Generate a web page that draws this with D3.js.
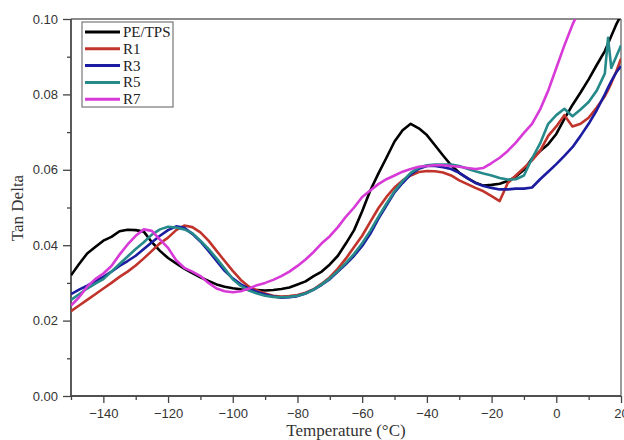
<!DOCTYPE html>
<html>
<head>
<meta charset="utf-8">
<script src="https://cdn.jsdelivr.net/npm/d3@7"></script>
<style>
  body { margin: 0; background: #fff; }
  svg { display: block; }
</style>
</head>
<body>
<div id="chart"></div>
<script>
// temperature grid (°C), shared by all series
const temps = [
  -150, -147.5, -145, -142.5, -140, -137.5, -135, -132.5, -130, -127.5,
  -125, -122.5, -120, -117.5, -115, -112.5, -110, -107.5, -105, -102.5,
  -100, -97.5, -95, -92.5, -90, -87.5, -85, -82.5, -80, -77.5,
  -75, -72.5, -70, -67.5, -65, -62.5, -60, -57.5, -55, -52.5,
  -50, -47.5, -45, -42.5, -40, -37.5, -35, -32.5, -30, -27.5,
  -25, -22.5, -20, -17.5, -15, -12.5, -10, -7.5, -5, -2.5,
  0, 2.5, 5, 7.5, 10, 12.5, 15, 16, 17, 18.5, 20
];

const pePts = [
  0.0320, 0.0350, 0.0378, 0.0395, 0.0412, 0.0422, 0.0437, 0.0441, 0.0440, 0.0436,
  0.0408, 0.0385, 0.0366, 0.0352, 0.0338, 0.0326, 0.0315, 0.0305, 0.0296, 0.0290,
  0.0286, 0.0283, 0.0281, 0.0281, 0.0280, 0.0281, 0.0284, 0.0288, 0.0296, 0.0304,
  0.0318, 0.0330, 0.0349, 0.0372, 0.0405, 0.0440, 0.0490, 0.0545, 0.0590, 0.0632,
  0.0675, 0.0705, 0.0722, 0.0710, 0.0692, 0.0665, 0.0638, 0.0612, 0.0592, 0.0578,
  0.0566, 0.0558, 0.0560, 0.0563, 0.0570, 0.0582, 0.0600, 0.0630, 0.0650, 0.0668,
  0.0695, 0.0735, 0.0772, 0.0805, 0.0840, 0.0878, 0.0915, 0.0935, 0.0955, 0.0985, 0.1010
];

const r1Pts = [
  0.0225, 0.0240, 0.0255, 0.0270, 0.0285, 0.0300, 0.0316, 0.0330, 0.0346, 0.0365,
  0.0385, 0.0405, 0.0420, 0.0440, 0.0452, 0.0448, 0.0434, 0.0412, 0.0385, 0.0358,
  0.0332, 0.0308, 0.0290, 0.0280, 0.0272, 0.0266, 0.0264, 0.0265, 0.0268, 0.0274,
  0.0283, 0.0298, 0.0315, 0.0338, 0.0365, 0.0395, 0.0425, 0.0462, 0.0498, 0.0528,
  0.0553, 0.0572, 0.0585, 0.0594, 0.0597, 0.0596, 0.0593, 0.0585, 0.0572, 0.0562,
  0.0552, 0.0543, 0.0530, 0.0517, 0.0565, 0.0585, 0.0605, 0.0625, 0.0650, 0.0690,
  0.0715, 0.0745, 0.0715, 0.0722, 0.0738, 0.0765, 0.0795, 0.0812, 0.0830, 0.0860, 0.0895
];

const r3Pts = [
  0.0270, 0.0282, 0.0293, 0.0305, 0.0316, 0.0330, 0.0345, 0.0358, 0.0372, 0.0390,
  0.0408, 0.0425, 0.0440, 0.0450, 0.0446, 0.0430, 0.0410, 0.0385, 0.0358, 0.0332,
  0.0312, 0.0296, 0.0285, 0.0276, 0.0269, 0.0264, 0.0261, 0.0262, 0.0265, 0.0272,
  0.0282, 0.0295, 0.0310, 0.0330, 0.0350, 0.0372, 0.0398, 0.0430, 0.0470, 0.0505,
  0.0540, 0.0565, 0.0588, 0.0603, 0.0610, 0.0610, 0.0607, 0.0602, 0.0592, 0.0578,
  0.0565, 0.0557, 0.0552, 0.0548, 0.0548, 0.0550, 0.0550, 0.0553, 0.0575, 0.0595,
  0.0615, 0.0637, 0.0660, 0.0690, 0.0722, 0.0758, 0.0800, 0.0818, 0.0835, 0.0858, 0.0875
];

const r5Pts = [
  0.0255, 0.0270, 0.0285, 0.0298, 0.0310, 0.0330, 0.0350, 0.0370, 0.0390, 0.0408,
  0.0428, 0.0442, 0.0449, 0.0447, 0.0442, 0.0432, 0.0412, 0.0390, 0.0365, 0.0338,
  0.0310, 0.0292, 0.0280, 0.0272, 0.0266, 0.0263, 0.0262, 0.0263, 0.0266, 0.0272,
  0.0282, 0.0296, 0.0312, 0.0332, 0.0353, 0.0377, 0.0405, 0.0438, 0.0475, 0.0510,
  0.0543, 0.0570, 0.0592, 0.0606, 0.0612, 0.0614, 0.0614, 0.0614, 0.0610, 0.0603,
  0.0596, 0.0590, 0.0585, 0.0578, 0.0574, 0.0575, 0.0585, 0.0630, 0.0670, 0.0722,
  0.0745, 0.0762, 0.0742, 0.0760, 0.0780, 0.0810, 0.0855, 0.0950, 0.0870, 0.0900, 0.0930
];

const r7Pts = [
  0.0240, 0.0262, 0.0290, 0.0310, 0.0325, 0.0345, 0.0375, 0.0402, 0.0425, 0.0442,
  0.0438, 0.0415, 0.0393, 0.0360, 0.0340, 0.0330, 0.0318, 0.0300, 0.0285, 0.0278,
  0.0275, 0.0278, 0.0285, 0.0294, 0.0300, 0.0308, 0.0318, 0.0330, 0.0345, 0.0362,
  0.0382, 0.0405, 0.0424, 0.0448, 0.0476, 0.0500, 0.0528, 0.0545, 0.0562, 0.0575,
  0.0585, 0.0595, 0.0602, 0.0608, 0.0610, 0.0612, 0.0612, 0.0610, 0.0608, 0.0605,
  0.0602, 0.0605, 0.0618, 0.0632, 0.0650, 0.0672, 0.0698, 0.0722, 0.0760, 0.0810,
  0.0870, 0.0930, 0.0985, 0.1030, 0.1060, 0.1090, 0.1120, 0.1130, 0.1140, 0.1150, 0.1160
];

const seriesNames = ["PE/TPS", "R1", "R3", "R5", "R7"];
const seriesValues = [pePts, r1Pts, r3Pts, r5Pts, r7Pts];
const seriesColors = ["#000000", "#c0342c", "#1c1ca0", "#268a8a", "#d83ad8"];

const xMajor = [-140, -120, -100, -80, -60, -40, -20, 0, 20];
const xMinor = [-150, -130, -110, -90, -70, -50, -30, -10, 10];
const yMajor = [0, 0.02, 0.04, 0.06, 0.08, 0.10];
const yMinor = [0.01, 0.03, 0.05, 0.07, 0.09];

const width = 624;
const height = 440;
const margin = { top: 19, right: 3, bottom: 44, left: 71 };
const plotW = width - margin.left - margin.right;
const plotH = height - margin.top - margin.bottom;

const svg = d3
  .select("#chart")
  .append("svg")
  .attr("width", width)
  .attr("height", height);

const xScale = d3.scaleLinear().domain([-150, 20]).range([0, plotW]);
const yScale = d3.scaleLinear().domain([0, 0.1]).range([plotH, 0]);

const g = svg
  .append("g")
  .attr("transform", "translate(" + margin.left + "," + margin.top + ")");

svg
  .append("defs")
  .append("clipPath")
  .attr("id", "plotClip")
  .append("rect")
  .attr("x", 0)
  .attr("y", 0)
  .attr("width", plotW)
  .attr("height", plotH);

// frame (top + right)
g.append("line")
  .attr("x1", 0).attr("x2", plotW)
  .attr("y1", 0).attr("y2", 0)
  .attr("stroke", "#666").attr("stroke-width", 1.3);
g.append("line")
  .attr("x1", plotW).attr("x2", plotW)
  .attr("y1", 0).attr("y2", plotH)
  .attr("stroke", "#666").attr("stroke-width", 1.3);

const axisColor = "#444";
const tickFont = "Liberation Sans, Arial, sans-serif";

// x axis
const xAxisMinor = g
  .append("g")
  .attr("transform", "translate(0," + plotH + ")")
  .call(d3.axisBottom(xScale).tickValues(xMinor).tickSize(4).tickFormat(""));

const xAxis = g
  .append("g")
  .attr("transform", "translate(0," + plotH + ")")
  .call(d3.axisBottom(xScale).tickValues(xMajor).tickSize(7).tickPadding(6).tickFormat(d3.format("d")));

// y axis
const yAxisMinor = g
  .append("g")
  .call(d3.axisLeft(yScale).tickValues(yMinor).tickSize(4).tickFormat(""));

const yAxis = g
  .append("g")
  .call(d3.axisLeft(yScale).tickValues(yMajor).tickSize(8).tickPadding(5).tickFormat(d3.format(".2f")));

[xAxisMinor, xAxis, yAxisMinor, yAxis].forEach(ax => {
  ax.select(".domain").attr("stroke", axisColor).attr("stroke-width", 1.3);
  ax.selectAll(".tick line").attr("stroke", axisColor).attr("stroke-width", 1.3);
  ax.selectAll("text")
    .attr("fill", "#333")
    .style("font-family", tickFont)
    .style("font-size", "13px");
});
// the axes themselves have no outer tick stubs
xAxis.select(".domain").attr("d", "M0,0H" + plotW);
xAxisMinor.select(".domain").attr("d", "M0,0H" + plotW);
yAxis.select(".domain").attr("d", "M0,0V" + plotH);
yAxisMinor.select(".domain").attr("d", "M0,0V" + plotH);

// lines
const line = d3
  .line()
  .x((d, i) => xScale(temps[i]))
  .y(d => yScale(d));

const lineG = g.append("g").attr("clip-path", "url(#plotClip)");

seriesValues.forEach((vals, k) => {
  lineG
    .append("path")
    .datum(vals)
    .attr("d", line)
    .attr("fill", "none")
    .attr("stroke", seriesColors[k])
    .attr("stroke-width", 2.6)
    .attr("stroke-linejoin", "round");
});

// legend
const legend = svg.append("g").attr("transform", "translate(82,22)");
legend
  .append("rect")
  .attr("x", 0)
  .attr("y", 0)
  .attr("width", 91)
  .attr("height", 85)
  .attr("fill", "#fff")
  .attr("stroke", "#777")
  .attr("stroke-width", 1.2);

seriesNames.forEach((name, k) => {
  const yy = 10 + k * 16.8;
  legend
    .append("line")
    .attr("x1", 3)
    .attr("x2", 38)
    .attr("y1", yy)
    .attr("y2", yy)
    .attr("stroke", seriesColors[k])
    .attr("stroke-width", 3);
  legend
    .append("text")
    .attr("x", 41)
    .attr("y", yy + 5)
    .style("font-family", "Liberation Serif, Times New Roman, serif")
    .style("font-size", "15px")
    .attr("fill", "#222")
    .text(name);
});

// axis titles
svg
  .append("text")
  .attr("transform", "translate(23,208) rotate(-90)")
  .attr("text-anchor", "middle")
  .style("font-family", "Liberation Serif, Times New Roman, serif")
  .style("font-size", "17px")
  .attr("fill", "#333")
  .text("Tan Delta");

svg
  .append("text")
  .attr("x", margin.left + xScale(-65))
  .attr("y", 436)
  .attr("text-anchor", "middle")
  .style("font-family", "Liberation Serif, Times New Roman, serif")
  .style("font-size", "17px")
  .attr("fill", "#333")
  .text("Temperature (°C)");
</script>
</body>
</html>
